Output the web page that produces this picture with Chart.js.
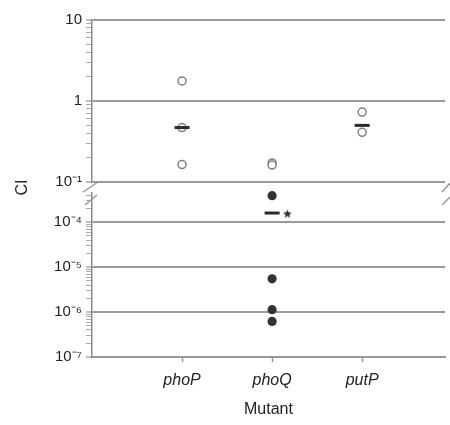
<!DOCTYPE html>
<html>
<head>
<meta charset="utf-8">
<script src="https://cdn.jsdelivr.net/npm/chart.js@4"></script>
<style>
  html, body { margin: 0; padding: 0; background: #fff; overflow: hidden; }
  #wrap { position: relative; width: 450px; height: 425px; }
</style>
</head>
<body>
<div id="wrap"><canvas id="ciChart"></canvas></div>
<script>
// mutants on the x axis
const categories = ['phoP', 'phoQ', 'putP'];

// CI values
const phoPOpen = [1.77, 0.47, 0.164];
const phoQOpen = [0.172, 0.162];
const putPOpen = [0.73, 0.41];
const phoQFilled = [3.9e-4, 5.5e-6, 1.13e-6, 6.2e-7];
const medianCI = [0.47, 1.6e-4, 0.5];
const significant = [false, true, false];

// axis ticks and labels
const topTicks = [0.1, 1, 10];
const topLabels = ['10\u207B\u00B9', '1', '10'];
const bottomTicks = [1e-7, 1e-6, 1e-5, 1e-4];
const bottomLabels = ['10\u207B\u2077', '10\u207B\u2076', '10\u207B\u2075', '10\u207B\u2074'];

const font = "'Liberation Sans', Arial, Helvetica, sans-serif";
const textColor = '#222';

const isPow10 = v => Math.abs(Math.log10(v) - Math.round(Math.log10(v))) < 1e-9;

function makeStar(r) {
  const c = document.createElement('canvas');
  c.width = c.height = Math.ceil(2 * r + 2);
  const g = c.getContext('2d');
  g.fillStyle = '#333';
  g.beginPath();
  for (let i = 0; i < 10; i++) {
    const a = -Math.PI / 2 + i * Math.PI / 5;
    const rr = i % 2 ? r * 0.45 : r;
    g.lineTo(c.width / 2 + rr * Math.cos(a), c.height / 2 + rr * Math.sin(a));
  }
  g.closePath();
  g.fill();
  return c;
}

const pts = (vals, i) => vals.map(v => ({ x: i + 1, y: v }));
const openPoints = [].concat(pts(phoPOpen, 0), pts(phoQOpen, 1), pts(putPOpen, 2));
const filledPoints = pts(phoQFilled, 1);
const medTop = [], medBot = [], stars = [];
medianCI.forEach((v, i) => {
  (v >= 0.1 ? medTop : medBot).push({ x: i + 1, y: v });
  if (significant[i]) stars.push({ x: i + 1.17, y: v * 0.95 });
});

function logAxis(min, max, weight, ticksAt, labels) {
  return {
    type: 'logarithmic',
    position: 'left',
    stack: 'ci',
    stackWeight: weight,
    min: min,
    max: max,
    afterBuildTicks: s => {
      s.ticks = s.ticks.filter(t => {
        const m = t.value / Math.pow(10, Math.floor(Math.log10(t.value) + 1e-9));
        return Math.abs(m - Math.round(m)) < 1e-6 && t.value >= min * 0.999 && t.value <= max * 1.001;
      });
    },
    afterFit: s => { s.width = 92; },
    ticks: {
      autoSkip: false,
      padding: 4,
      color: textColor,
      font: { family: font, size: 15 },
      callback: v => {
        const k = ticksAt.findIndex(t => Math.abs(Math.log10(t) - Math.log10(v)) < 1e-6);
        return k >= 0 ? labels[k] : '';
      }
    },
    grid: {
      drawOnChartArea: true,
      tickLength: 6,
      color: c => (c.tick && isPow10(c.tick.value)) ? '#9a9a9a' : 'rgba(0,0,0,0)',
      lineWidth: c => (c.tick && isPow10(c.tick.value)) ? 2 : 1,
      tickColor: '#aaa',
      tickWidth: c => (c.tick && isPow10(c.tick.value)) ? 1.5 : 1
    },
    border: { display: true, color: '#8a8a8a', width: 1.5 }
  };
}

const breakMarks = {
  id: 'breakMarks',
  afterDraw(chart) {
    const ctx = chart.ctx;
    const top = chart.scales.yTop, bot = chart.scales.yBot;
    const x0 = chart.chartArea.left, x1 = chart.chartArea.right;
    const b = top.bottom, t = bot.top;
    ctx.save();
    ctx.strokeStyle = '#999';
    ctx.lineWidth = 1.5;
    const seg = (ax, ay, bx, by) => { ctx.beginPath(); ctx.moveTo(ax, ay); ctx.lineTo(bx, by); ctx.stroke(); };
    seg(x0 - 9, b + 10, x0 + 6, b);
    seg(x0 - 7, t + 12, x0 + 5, t + 2);
    seg(x1 - 3, b + 10, x1 + 5, b + 1);
    seg(x1 - 3, t + 12, x1 + 5, t + 4);
    ctx.restore();
  }
};

new Chart(document.getElementById('ciChart'), {
  type: 'scatter',
  data: {
    datasets: [
      {
        label: 'star', data: stars, yAxisID: 'yBot',
        pointStyle: makeStar(4.5), pointRadius: 4.5
      },
      {
        label: 'median', data: medTop, yAxisID: 'yTop',
        pointStyle: 'line', pointRadius: 7.5, borderWidth: 3, borderColor: '#2a2a2a', backgroundColor: '#2a2a2a'
      },
      {
        label: 'median2', data: medBot, yAxisID: 'yBot',
        pointStyle: 'line', pointRadius: 7.5, borderWidth: 3, borderColor: '#2a2a2a', backgroundColor: '#2a2a2a'
      },
      {
        label: 'filled', data: filledPoints, yAxisID: 'yBot', clip: false,
        pointStyle: 'circle', pointRadius: 4.6, borderWidth: 0, backgroundColor: '#333'
      },
      {
        label: 'open', data: openPoints, yAxisID: 'yTop',
        pointStyle: 'circle', pointRadius: 4, borderWidth: 1.5, borderColor: '#808080', backgroundColor: '#fff'
      }
    ]
  },
  options: {
    responsive: true,
    maintainAspectRatio: false,
    animation: false,
    events: [],
    layout: { autoPadding: false, padding: { left: 0, right: 5, top: 20, bottom: 0 } },
    plugins: { legend: { display: false }, tooltip: { enabled: false } },
    scales: {
      x: {
        type: 'linear',
        min: 0,
        max: 3.92,
        afterBuildTicks: s => { s.ticks = categories.map((c, i) => ({ value: i + 1 })); },
        afterFit: s => { s.height = 68; s.paddingLeft = 0; s.paddingRight = 0; },
        ticks: {
          autoSkip: false,
          padding: 9,
          color: textColor,
          font: { family: font, size: 16, style: 'italic' },
          callback: v => categories[v - 1] || ''
        },
        grid: { drawOnChartArea: false, tickLength: 5, tickColor: '#999', tickWidth: 1.5 },
        border: { color: '#999', width: 2 },
        title: {
          display: true, text: 'Mutant', color: textColor,
          font: { family: font, size: 16 }, padding: { top: 8, bottom: 6 }
        }
      },
      // left-side stacked boxes are laid out bottom-up, so list the lower panel first
      yBot: logAxis(1e-7, Math.pow(10, -3.35), 164, bottomTicks, bottomLabels),
      yGap: {
        type: 'linear',
        position: 'left',
        stack: 'ci',
        stackWeight: 11,
        min: 0, max: 1,
        afterFit: s => { s.width = 92; },
        ticks: { display: false },
        grid: { display: false, drawTicks: false },
        border: { display: false },
        title: {
          display: true, text: 'CI', color: textColor,
          font: { family: font, size: 16 }, padding: { top: 13, bottom: 4 }
        }
      },
      yTop: logAxis(0.1, 10, 162, topTicks, topLabels)
    }
  },
  plugins: [breakMarks]
});
</script>
</body>
</html>
